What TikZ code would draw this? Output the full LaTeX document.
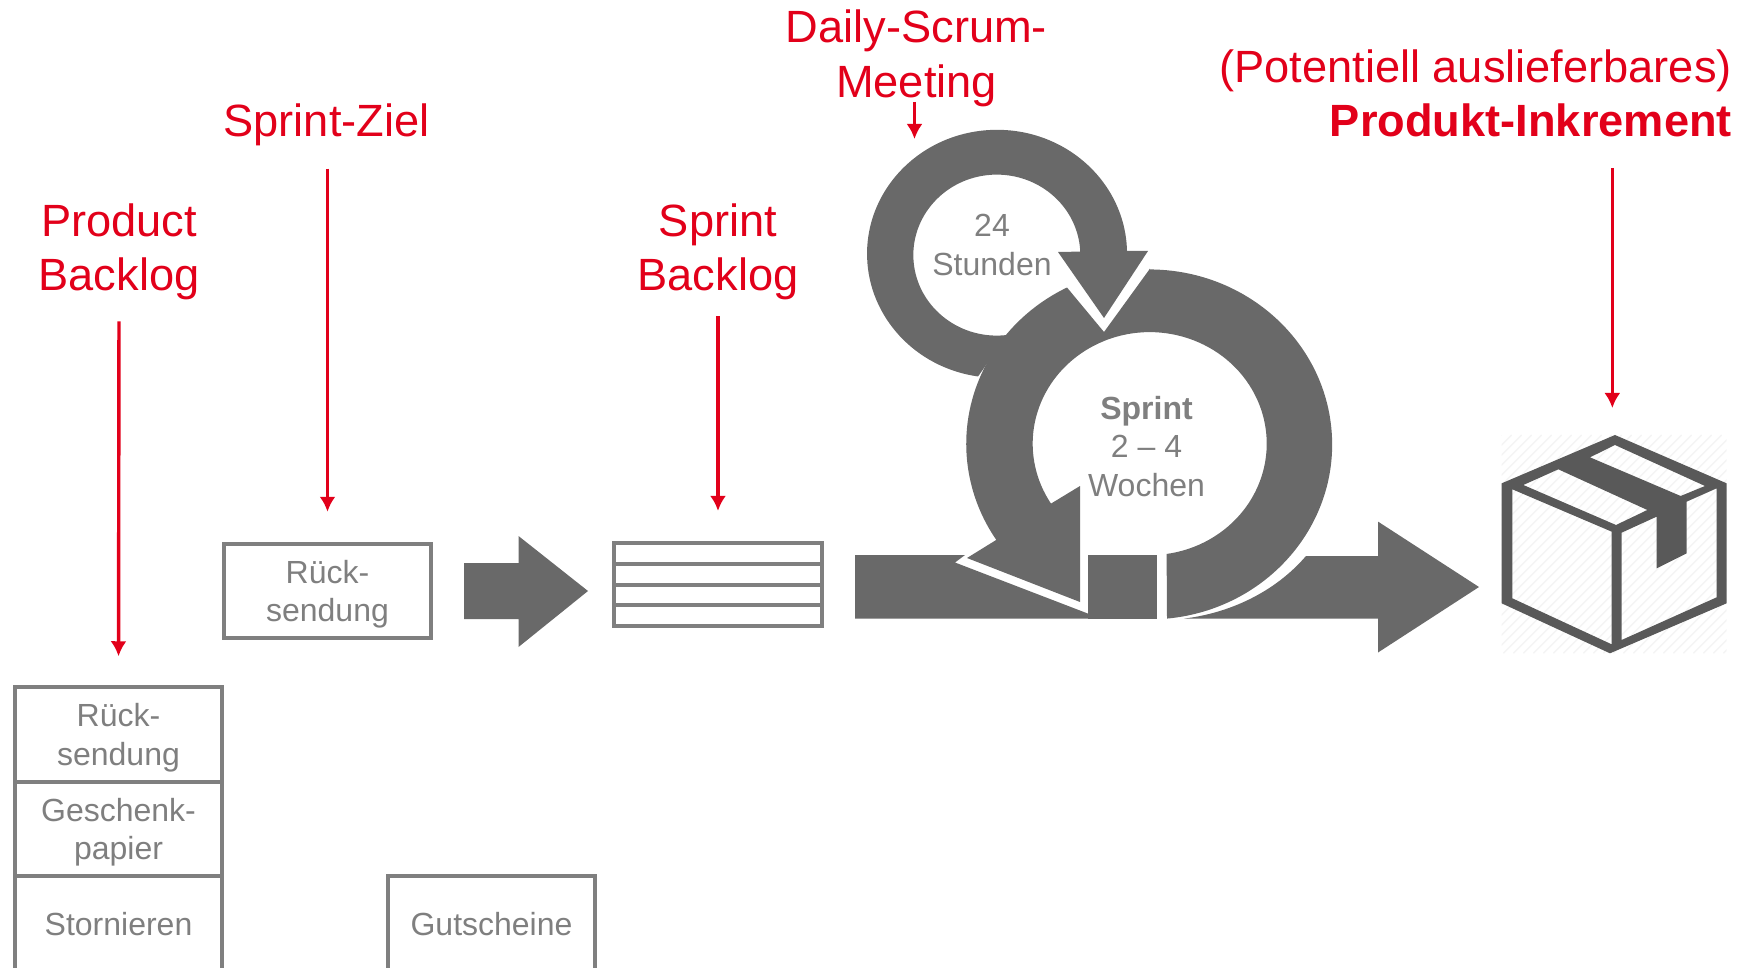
\documentclass[tikz,border=0pt]{standalone}
\usepackage{fontspec}
\setmainfont{Liberation Sans}
\usetikzlibrary{arrows.meta}

\definecolor{sprintred}{HTML}{E2001A}
\definecolor{darkshape}{HTML}{696969}
\definecolor{boxgray}{HTML}{7F7F7F}
\definecolor{icongray}{HTML}{595959}
\definecolor{hatchgray}{HTML}{F4F4F4}

\tikzset{
  redlabel/.style={text=sprintred, inner sep=0pt, align=center, font=\fontsize{45.2}{54.2}\selectfont},
  graylabel/.style={text=boxgray, inner sep=0pt, align=center, font=\fontsize{32}{38.5}\selectfont},
  redarrow/.style={draw=sprintred, line width=3.4pt, -{Latex[length=15pt,width=16pt]}},
  itembox/.style={draw=boxgray, line width=4pt, minimum width=207.5pt, minimum height=94.5pt, inner sep=0pt,
    text=boxgray, align=center, text depth=-2pt, font=\fontsize{32}{38.5}\selectfont},
  rowbox/.style={draw=boxgray, line width=4pt, minimum width=208pt, minimum height=20.8pt, inner sep=0pt},
  bigshape/.style={fill=darkshape}
}

\begin{document}
\begin{tikzpicture}[x=1pt,y=-1pt]
  \useasboundingbox (0,0) rectangle (1740,968);

  \node[redlabel] (productlabel) at (119,252) {Product\\Backlog};
  \node[redlabel] (ziellabel) at (326.5,124.4) {Sprint-Ziel};
  \node[redlabel] (sprintlabel) at (718,252) {Sprint\\Backlog};
  \node[redlabel] (dailylabel) at (916.5,58.4) {Daily-Scrum-\\Meeting};
  \node[redlabel, align=right, anchor=east] (inkrementlabel) at (1732,93.5) {(Potentiell auslieferbares)\\\textbf{Produkt-Inkrement}};

  \node[itembox] (rueck) at (327.5,591) {Rück-\\sendung};
  \node[itembox] (stackone) at (118.5,734.5) {Rück-\\sendung};
  \node[itembox] (stacktwo) at (118.5,829) {Geschenk-\\papier};
  \node[itembox] (stackthree) at (118.5,923.5) {Stornieren};
  \node[itembox] (gutscheine) at (491.5,923.5) {Gutscheine};

  \node[rowbox] (rowa) at (718,553.3) {};
  \node[rowbox] (rowb) at (718,574.1) {};
  \node[rowbox] (rowc) at (718,594.9) {};
  \node[rowbox] (rowd) at (718,615.7) {};

  % arrow between the boxes
  \fill[bigshape] (464,563) -- (518.5,563) -- (518.5,536) -- (588,591) -- (518.5,647) -- (518.5,619) -- (464,619) -- cycle;

  % daily loop
  \fill[bigshape] (1127,251) arc[start angle=1.3, end angle=261.6, x radius=130pt, y radius=124pt]
    -- (1007,335) arc[start angle=277, end angle=2.5, x radius=83.5pt, y radius=80.5pt]
    -- (1058,252) -- (1104,318) -- (1148,251) -- cycle;

  % sprint loop
  \fill[bigshape] (1067,287.5) arc[start angle=116.7, end angle=213.3, x radius=183pt, y radius=175pt]
    -- (967,558) -- (1080,602) -- (1080,486) -- (1051,503.6)
    arc[start angle=212.5, end angle=113, x radius=117pt, y radius=111.5pt] -- (1104,332) -- cycle;
  \fill[bigshape] (1150,268.6) -- (1104,332) -- (1104,341)
    arc[start angle=113, end angle=-81.7, x radius=117pt, y radius=111.5pt]
    -- (1167,618.6) arc[start angle=-84.4, end angle=90, x radius=183pt, y radius=175pt] -- cycle;

  % bar through the loop
  \fill[bigshape] (855,555) -- (965,555) -- (955,562.5) -- (1088,613.6) -- (1088,618.6) -- (855,618.6) -- cycle;
  \fill[bigshape] (1088,555) rectangle (1157,618.6);
  \fill[bigshape] (1184,618.6) .. controls (1230,613) and (1275,592) .. (1306,556)
    -- (1378,556) -- (1378,521.6) -- (1479,587) -- (1378,652.5) -- (1378,618.6) -- cycle;

  \node[graylabel] (stunden) at (992,245) {24\\Stunden};
  \node[graylabel] (wochen) at (1146.5,446.5) {\textbf{Sprint}\\2 – 4\\Wochen};

  % package icon
  \begin{scope}[shift={(1460,400)},x=0.3333pt,y=-0.3333pt]
    \begin{scope}
      \clip (125,105) rectangle (800,760);
      \foreach \k in {0,30,...,1350}
        \draw[hatchgray, line width=1.5pt] (\k-530,760) -- (\k+125,105);
    \end{scope}
    \fill[icongray, even odd rule] (465,105) -- (800,250) -- (800,610) -- (450,760) -- (125,610) -- (125,250) -- cycle
      (157,268) -- (455,395) -- (455,733) -- (157,595) -- cycle
      (485,398) -- (590,350) -- (590,505) -- (680,460) -- (680,305) -- (770,265) -- (770,592) -- (485,720) -- cycle
      (190,255) -- (295,208) -- (562,330) -- (468,375) -- cycle
      (390,172) -- (465,135) -- (735,258) -- (662,288) -- cycle;
    \coordinate (packagetop) at (457,105);
  \end{scope}

  \coordinate (dailytip) at (914.5,139);

  \draw[redarrow, shorten <=21pt, shorten >=29pt] (productlabel.south) -- (stackone.north);
  \draw[redarrow, shorten <=23pt, shorten >=30pt] (ziellabel.south -| rueck.north) -- (rueck.north);
  \draw[redarrow, shorten <=16pt, shorten >=30pt] (sprintlabel.south) -- (rowa.north);
  \draw[redarrow, shorten <=-5pt] (dailylabel.south -| dailytip) -- (dailytip);
  \draw[redarrow, shorten <=30.5pt, shorten >=27pt] (inkrementlabel.south -| packagetop) -- (packagetop);
\end{tikzpicture}
\end{document}
